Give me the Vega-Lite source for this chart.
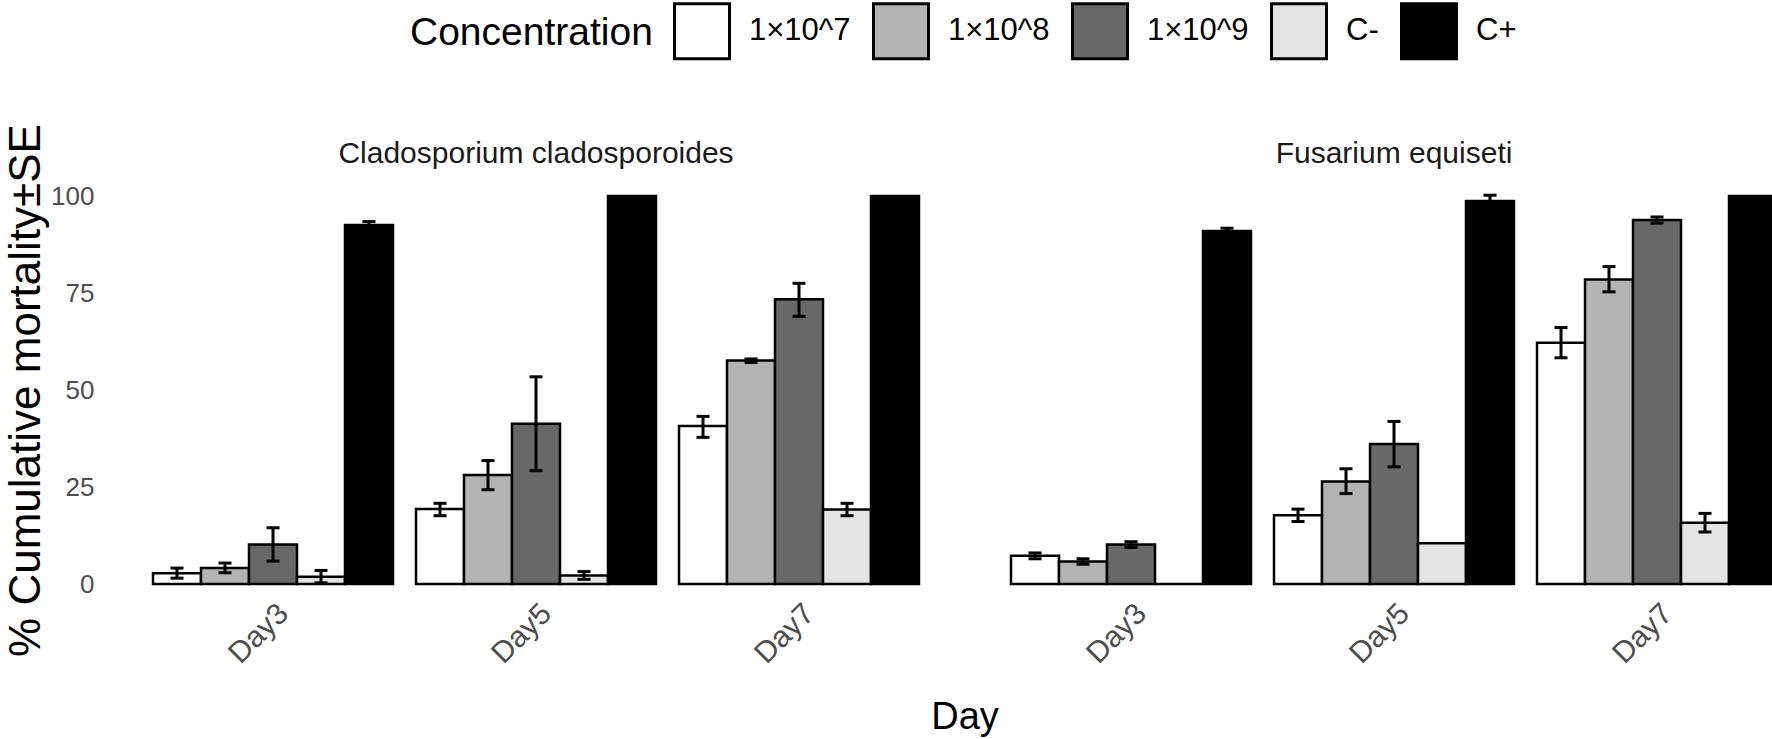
{
  "$schema": "https://vega.github.io/schema/vega-lite/v6.json",
  "padding": {"left": 4, "top": 2, "right": 0, "bottom": 0},
  "config": {
    "font": "Liberation Sans",
    "view": {"stroke": null},
    "axis": {"grid": false},
    "legend": {
      "orient": "none",
      "legendX": 257,
      "legendY": -194,
      "direction": "horizontal",
      "titleOrient": "left",
      "titleFontSize": 39,
      "titleFontWeight": "normal",
      "titleColor": "black",
      "titlePadding": 20,
      "titleLimit": 500,
      "labelFontSize": 31,
      "labelColor": "black",
      "labelOffset": 18,
      "labelLimit": 300,
      "symbolType": "square",
      "symbolSize": 3025,
      "symbolStrokeColor": "black",
      "symbolStrokeWidth": 3,
      "symbolOpacity": 1,
      "columnPadding": 16
    }
  },
  "data": {
    "values": [
      {"Fungus": "Cladosporium cladosporoides", "Day": "Day3", "Concentration": "1×10^7", "Mean": 2.8, "Lo": 1.5, "Hi": 4.1},
      {"Fungus": "Cladosporium cladosporoides", "Day": "Day3", "Concentration": "1×10^8", "Mean": 4.1, "Lo": 2.9, "Hi": 5.4},
      {"Fungus": "Cladosporium cladosporoides", "Day": "Day3", "Concentration": "1×10^9", "Mean": 10.2, "Lo": 5.9, "Hi": 14.5},
      {"Fungus": "Cladosporium cladosporoides", "Day": "Day3", "Concentration": "C-", "Mean": 1.9, "Lo": 0.3, "Hi": 3.5},
      {"Fungus": "Cladosporium cladosporoides", "Day": "Day3", "Concentration": "C+", "Mean": 92.5, "Lo": 91.6, "Hi": 93.4},
      {"Fungus": "Cladosporium cladosporoides", "Day": "Day5", "Concentration": "1×10^7", "Mean": 19.3, "Lo": 17.6, "Hi": 20.8},
      {"Fungus": "Cladosporium cladosporoides", "Day": "Day5", "Concentration": "1×10^8", "Mean": 28.1, "Lo": 24.3, "Hi": 31.8},
      {"Fungus": "Cladosporium cladosporoides", "Day": "Day5", "Concentration": "1×10^9", "Mean": 41.3, "Lo": 29.2, "Hi": 53.4},
      {"Fungus": "Cladosporium cladosporoides", "Day": "Day5", "Concentration": "C-", "Mean": 2.2, "Lo": 1.2, "Hi": 3.2},
      {"Fungus": "Cladosporium cladosporoides", "Day": "Day5", "Concentration": "C+", "Mean": 100, "Lo": null, "Hi": null},
      {"Fungus": "Cladosporium cladosporoides", "Day": "Day7", "Concentration": "1×10^7", "Mean": 40.7, "Lo": 37.8, "Hi": 43.2},
      {"Fungus": "Cladosporium cladosporoides", "Day": "Day7", "Concentration": "1×10^8", "Mean": 57.6, "Lo": 57.1, "Hi": 58.0},
      {"Fungus": "Cladosporium cladosporoides", "Day": "Day7", "Concentration": "1×10^9", "Mean": 73.4, "Lo": 69.0, "Hi": 77.5},
      {"Fungus": "Cladosporium cladosporoides", "Day": "Day7", "Concentration": "C-", "Mean": 19.2, "Lo": 17.6, "Hi": 20.8},
      {"Fungus": "Cladosporium cladosporoides", "Day": "Day7", "Concentration": "C+", "Mean": 100, "Lo": null, "Hi": null},
      {"Fungus": "Fusarium equiseti", "Day": "Day3", "Concentration": "1×10^7", "Mean": 7.3, "Lo": 6.5, "Hi": 8.0},
      {"Fungus": "Fusarium equiseti", "Day": "Day3", "Concentration": "1×10^8", "Mean": 5.8, "Lo": 5.1, "Hi": 6.5},
      {"Fungus": "Fusarium equiseti", "Day": "Day3", "Concentration": "1×10^9", "Mean": 10.2, "Lo": 9.4, "Hi": 10.9},
      {"Fungus": "Fusarium equiseti", "Day": "Day3", "Concentration": "C-", "Mean": 0, "Lo": null, "Hi": null},
      {"Fungus": "Fusarium equiseti", "Day": "Day3", "Concentration": "C+", "Mean": 91.0, "Lo": 90.3, "Hi": 91.7},
      {"Fungus": "Fusarium equiseti", "Day": "Day5", "Concentration": "1×10^7", "Mean": 17.7, "Lo": 16.1, "Hi": 19.3},
      {"Fungus": "Fusarium equiseti", "Day": "Day5", "Concentration": "1×10^8", "Mean": 26.4, "Lo": 23.3, "Hi": 29.7},
      {"Fungus": "Fusarium equiseti", "Day": "Day5", "Concentration": "1×10^9", "Mean": 36.1, "Lo": 30.2, "Hi": 41.9},
      {"Fungus": "Fusarium equiseti", "Day": "Day5", "Concentration": "C-", "Mean": 10.5, "Lo": null, "Hi": null},
      {"Fungus": "Fusarium equiseti", "Day": "Day5", "Concentration": "C+", "Mean": 98.7, "Lo": 97.2, "Hi": 100.2},
      {"Fungus": "Fusarium equiseti", "Day": "Day7", "Concentration": "1×10^7", "Mean": 62.2, "Lo": 58.3, "Hi": 66.1},
      {"Fungus": "Fusarium equiseti", "Day": "Day7", "Concentration": "1×10^8", "Mean": 78.5, "Lo": 75.3, "Hi": 81.8},
      {"Fungus": "Fusarium equiseti", "Day": "Day7", "Concentration": "1×10^9", "Mean": 93.8, "Lo": 93.0, "Hi": 94.6},
      {"Fungus": "Fusarium equiseti", "Day": "Day7", "Concentration": "C-", "Mean": 15.8, "Lo": 13.4, "Hi": 18.2},
      {"Fungus": "Fusarium equiseti", "Day": "Day7", "Concentration": "C+", "Mean": 100, "Lo": null, "Hi": null}
    ]
  },
  "facet": {
    "column": {
      "field": "Fungus",
      "type": "nominal",
      "sort": ["Cladosporium cladosporoides", "Fusarium equiseti"],
      "title": "Day",
      "header": {
        "titleOrient": "bottom",
        "titleFontSize": 38,
        "titleFontWeight": "normal",
        "titleColor": "black",
        "titlePadding": 20,
        "labelOrient": "top",
        "labelFontSize": 30,
        "labelColor": "#1a1a1a",
        "labelPadding": 24
      }
    }
  },
  "spacing": 88,
  "spec": {
    "width": 766,
    "height": 388,
    "encoding": {
      "x": {
        "field": "Day",
        "type": "nominal",
        "sort": ["Day3", "Day5", "Day7"],
        "title": null,
        "scale": {"paddingInner": 0.0875, "paddingOuter": 0},
        "axis": {
          "labelAngle": -45,
          "labelAlign": "right",
          "labelBaseline": "top",
          "labelFontSize": 30,
          "labelColor": "#4d4d4d",
          "labelPadding": 12,
          "ticks": false,
          "domain": false
        }
      },
      "xOffset": {
        "field": "Concentration",
        "type": "nominal",
        "sort": ["1×10^7", "1×10^8", "1×10^9", "C-", "C+"],
        "scale": {"paddingInner": 0, "paddingOuter": 0}
      }
    },
    "layer": [
      {
        "mark": {"type": "bar", "stroke": "black", "strokeWidth": 2.5},
        "encoding": {
          "y": {
            "field": "Mean",
            "type": "quantitative",
            "title": "% Cumulative mortality±SE",
            "scale": {"domain": [0, 100]},
            "axis": {
              "values": [0, 25, 50, 75, 100],
              "labelFontSize": 26,
              "labelColor": "#4d4d4d",
              "labelPadding": 57,
              "ticks": false,
              "domain": false,
              "titleFontSize": 44,
              "titleFontWeight": "normal",
              "titleColor": "black",
              "titlePadding": 2
            }
          },
          "color": {
            "field": "Concentration",
            "type": "nominal",
            "title": "Concentration",
            "sort": ["1×10^7", "1×10^8", "1×10^9", "C-", "C+"],
            "scale": {
              "domain": ["1×10^7", "1×10^8", "1×10^9", "C-", "C+"],
              "range": ["#ffffff", "#b3b3b3", "#686868", "#e3e3e3", "#000000"]
            }
          }
        }
      },
      {
        "mark": {"type": "rule", "color": "black", "strokeWidth": 3},
        "encoding": {
          "y": {"field": "Lo", "type": "quantitative", "title": "% Cumulative mortality±SE"},
          "y2": {"field": "Hi"}
        }
      },
      {
        "mark": {"type": "tick", "color": "black", "size": 13, "thickness": 3, "opacity": 1},
        "encoding": {
          "y": {"field": "Lo", "type": "quantitative", "title": "% Cumulative mortality±SE"}
        }
      },
      {
        "mark": {"type": "tick", "color": "black", "size": 13, "thickness": 3, "opacity": 1},
        "encoding": {
          "y": {"field": "Hi", "type": "quantitative", "title": "% Cumulative mortality±SE"}
        }
      }
    ]
  }
}
